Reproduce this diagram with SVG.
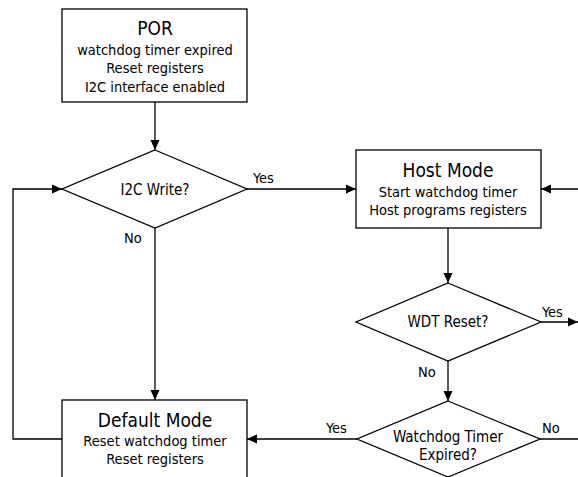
<svg xmlns="http://www.w3.org/2000/svg" width="578" height="477" viewBox="0 0 578 477">
  <style>
    .box { fill: #fff; stroke: #000; stroke-width: 1.3; }
    .wire { fill: none; stroke: #000; stroke-width: 1.3; }
    text { font-family: "DejaVu Sans Condensed", "DejaVu Sans", "Liberation Sans", sans-serif; fill: #000; text-anchor: middle; }
    .title { font-size: 19px; }
    .body { font-size: 14.5px; }
    .ask { font-size: 15px; }
    .lbl { font-size: 14.5px; text-anchor: start; }
  </style>
  <defs>
    <marker id="arrow" viewBox="0 0 10 10" refX="10" refY="5" markerWidth="10" markerHeight="10" markerUnits="userSpaceOnUse" orient="auto">
      <path d="M0,0.5 L10,5 L0,9.5 Z" fill="#000"/>
    </marker>
  </defs>
  <rect width="578" height="477" fill="#fff"/>

  <g id="connectors">
    <path class="wire" d="M155,102 V150" marker-end="url(#arrow)"/>
    <path class="wire" d="M247,189 H356" marker-end="url(#arrow)"/>
    <path class="wire" d="M578,189 H541" marker-end="url(#arrow)"/>
    <path class="wire" d="M448,228 V283" marker-end="url(#arrow)"/>
    <path class="wire" d="M541,322 H578" marker-end="url(#arrow)"/>
    <path class="wire" d="M448,361 V401" marker-end="url(#arrow)"/>
    <path class="wire" d="M357,439 H247" marker-end="url(#arrow)"/>
    <path class="wire" d="M540,439 H578"/>
    <path class="wire" d="M62,439 H13 V189 H62" marker-end="url(#arrow)"/>
    <path class="wire" d="M155,228 V400" marker-end="url(#arrow)"/>
    <text class="lbl" x="253" y="183">Yes</text>
    <text class="lbl" x="124" y="243">No</text>
    <text class="lbl" x="542" y="317">Yes</text>
    <text class="lbl" x="418" y="377">No</text>
    <text class="lbl" x="326" y="433">Yes</text>
    <text class="lbl" x="542" y="433">No</text>
  </g>

  <g id="por">
    <rect class="box" x="62" y="9" width="185" height="93"/>
    <text class="title" x="155" y="35">POR</text>
    <text class="body" x="155" y="55">watchdog timer expired</text>
    <text class="body" x="155" y="73">Reset registers</text>
    <text class="body" x="155" y="92">I2C interface enabled</text>
  </g>

  <g id="i2c-write">
    <path class="box" d="M155,150 L247,189 L155,228 L62,189 Z"/>
    <text class="ask" x="155" y="195">I2C Write?</text>
  </g>

  <g id="host-mode">
    <rect class="box" x="356" y="150" width="185" height="78"/>
    <text class="title" x="448" y="177">Host Mode</text>
    <text class="body" x="448" y="197">Start watchdog timer</text>
    <text class="body" x="448" y="215">Host programs registers</text>
  </g>

  <g id="wdt-reset">
    <path class="box" d="M448,283 L541,322 L448,361 L356,322 Z"/>
    <text class="ask" x="448" y="327">WDT Reset?</text>
  </g>

  <g id="timer-expired">
    <path class="box" d="M448,401 L540,439 L448,477 L357,439 Z"/>
    <text class="ask" x="448" y="442">Watchdog Timer</text>
    <text class="ask" x="448" y="460">Expired?</text>
  </g>

  <g id="default-mode">
    <rect class="box" x="62" y="400" width="185" height="90"/>
    <text class="title" x="155" y="427">Default Mode</text>
    <text class="body" x="155" y="446">Reset watchdog timer</text>
    <text class="body" x="155" y="464">Reset registers</text>
  </g>
</svg>
